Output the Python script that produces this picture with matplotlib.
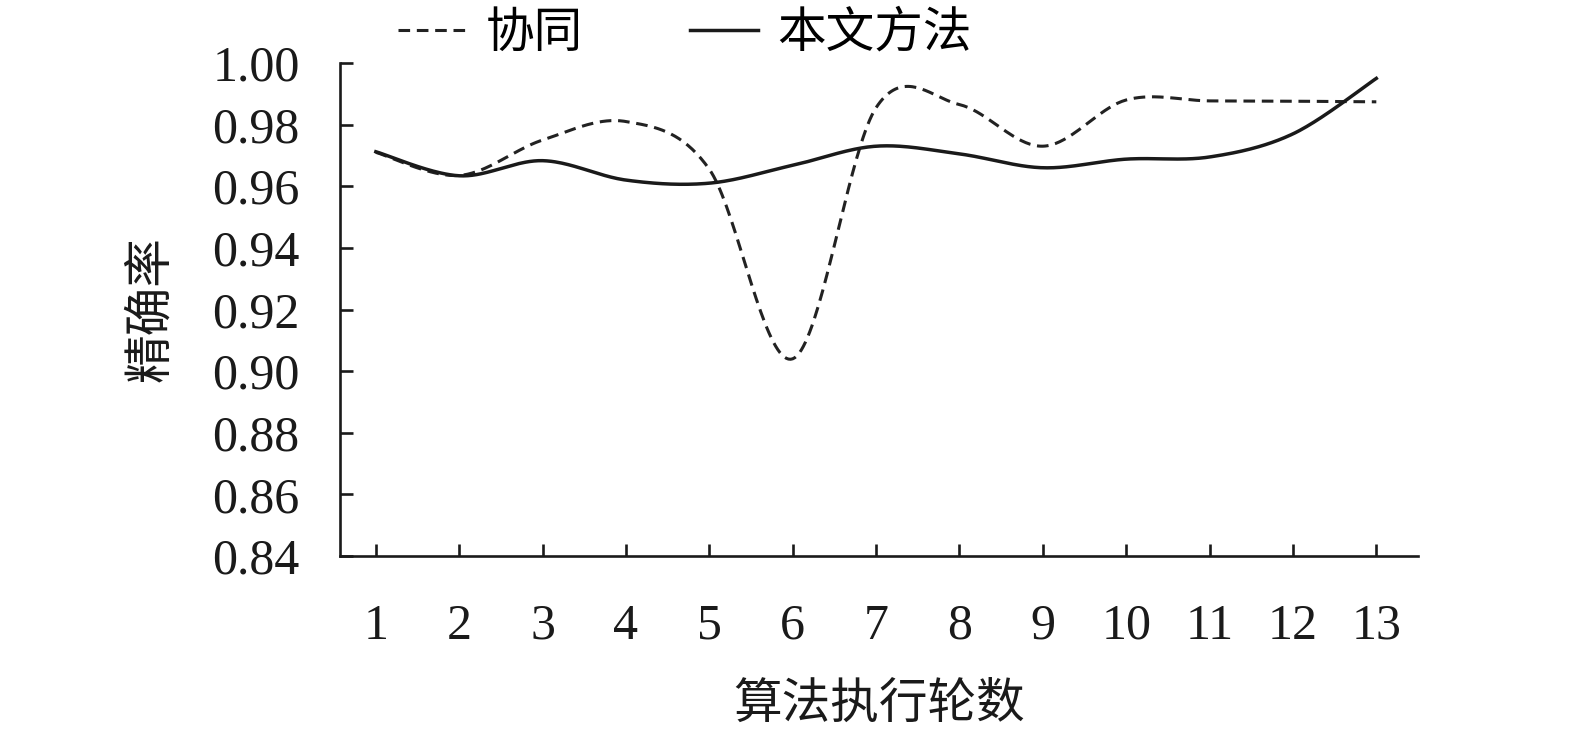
import matplotlib
matplotlib.use("Agg")
import matplotlib.pyplot as plt
import numpy as np

rounds = [1, 2, 3, 4, 5, 6, 7, 8, 9, 10, 11, 12, 13]
xietong = [0.971, 0.9635, 0.975, 0.981, 0.9655, 0.904, 0.9855, 0.9865, 0.973, 0.988, 0.9877, 0.9876, 0.9874]
ours = [0.9712, 0.9634, 0.9683, 0.962, 0.961, 0.9668, 0.973, 0.9705, 0.966, 0.9688, 0.9695, 0.977, 0.995]
yticks = [0.84, 0.86, 0.88, 0.90, 0.92, 0.94, 0.96, 0.98, 1.00]

serif = ['Liberation Serif', 'DejaVu Serif']
cjk = ['Noto Sans CJK SC', 'DejaVu Sans']


def smooth(xs, ys, n=40):
    # catmull-rom style smoothing, like the "smoothed line" option in Excel
    p = np.column_stack([xs, ys]).astype(float)
    ext = np.vstack([p[0], p, p[-1]])
    m = (ext[2:] - ext[:-2]) / 2.0
    out = []
    t = np.linspace(0, 1, n)[:, None]
    h00 = 2*t**3 - 3*t**2 + 1
    h10 = t**3 - 2*t**2 + t
    h01 = -2*t**3 + 3*t**2
    h11 = t**3 - t**2
    for i in range(len(p) - 1):
        seg = h00*p[i] + h10*m[i] + h01*p[i+1] + h11*m[i+1]
        out.append(seg if i == 0 else seg[1:])
    out = np.vstack(out)
    return out[:, 0], out[:, 1]


fig = plt.figure(figsize=(15.75, 7.34), dpi=100)
ax = fig.add_axes([340/1575, 1-556/734, 1078/1575, 493/734])

sx, sy = smooth(rounds, xietong)
ax.plot(sx, sy, color='#222222', lw=2.2, linestyle=(0, (3.8, 2.2)), label='协同')
sx, sy = smooth(rounds, ours)
ax.plot(sx, sy, color='#1a1a1a', lw=2.5, label='本文方法')

ax.set_xlim(0.57, 13.5)
ax.set_ylim(0.84, 1.00)
ax.set_xticks(rounds)
ax.set_yticks(yticks)
ax.set_yticklabels(['%.2f' % v for v in yticks])

for s in ['top', 'right']:
    ax.spines[s].set_visible(False)
for s in ['left', 'bottom']:
    ax.spines[s].set_linewidth(1.9)
    ax.spines[s].set_color('#1a1a1a')

ax.tick_params(axis='x', direction='in', length=9, width=1.9, pad=34, colors='#1a1a1a')
ax.tick_params(axis='y', direction='in', length=9, width=1.9, pad=29, colors='#1a1a1a')
for lb in ax.get_xticklabels() + ax.get_yticklabels():
    lb.set_family(serif)
    lb.set_fontsize(36)

ax.set_xlabel('算法执行轮数', family=cjk, fontsize=35, color='#1a1a1a')
ax.xaxis.set_label_coords(0.5, -0.25)
ax.set_ylabel('精确率', family=cjk, fontsize=35, color='#1a1a1a')
ax.yaxis.set_label_coords(-0.153, 0.5)

leg = fig.legend(loc='center left', bbox_to_anchor=(398/1575, 1-33/734),
                 ncol=2, frameon=False, prop={'family': cjk, 'size': 35},
                 handlelength=1.4, handletextpad=0.4, columnspacing=2.2,
                 borderpad=0, borderaxespad=0)

fig.savefig('out.png', dpi=100)
